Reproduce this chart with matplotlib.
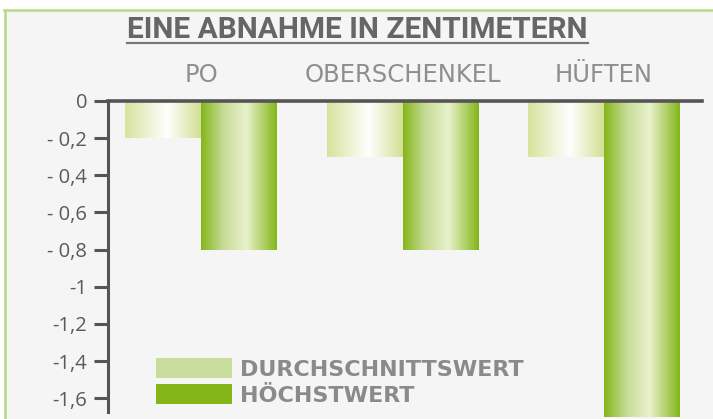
import matplotlib
matplotlib.use("Agg")
import matplotlib.pyplot as plt
import numpy as np
from matplotlib.lines import Line2D
from matplotlib.patches import Rectangle
from matplotlib.colors import LinearSegmentedColormap

# ---- data ----
categories = ["PO", "OBERSCHENKEL", "HÜFTEN"]
avg_values = [-0.2, -0.3, -0.3]
max_values = [-0.8, -0.8, -1.7]
series_names = ["DURCHSCHNITTSWERT", "HÖCHSTWERT"]
y_ticks = [0, -0.2, -0.4, -0.6, -0.8, -1.0, -1.2, -1.4, -1.6]
y_tick_labels = ["0", "- 0,2", "- 0,4", "- 0,6", "- 0,8", "-1", "-1,2", "-1,4", "-1,6"]
title = "EINE ABNAHME IN ZENTIMETERN"

W, H = 713, 419
fig = plt.figure(figsize=(W / 100, H / 100), dpi=100)
fig.patch.set_facecolor("white")

def fx(px):
    return px / W

def fy(py):
    return 1 - py / H

# background panel + border
fig.patches.append(Rectangle((fx(4), 0), 1 - fx(4), fy(10.5), transform=fig.transFigure,
                             facecolor="#f5f5f5", edgecolor="none", zorder=-5))
fig.lines.append(Line2D([fx(4), 1], [fy(10.5), fy(10.5)], transform=fig.transFigure,
                        color="#b9d98a", lw=1.8, zorder=-4))
fig.lines.append(Line2D([fx(4.5), fx(4.5)], [0, fy(10)], transform=fig.transFigure,
                        color="#b9d98a", lw=1.8, zorder=-4))

ax = fig.add_axes([fx(108), 0, fx(702) - fx(108), fy(101)])
ax.set_facecolor("none")
ax.set_zorder(2)

x = np.arange(len(categories))
bw = 0.375
light_bars = ax.bar(x - bw / 2, avg_values, bw, color="#c8dc9c", label=series_names[0], zorder=2)
dark_bars = ax.bar(x + bw / 2, max_values, bw, color="#84b61a", label=series_names[1], zorder=2)

cm_light = LinearSegmentedColormap.from_list(
    "l", [(0, "#d6e39c"), (0.55, "#ffffff"), (1, "#d2e095")])
cm_dark = LinearSegmentedColormap.from_list(
    "d", [(0, "#84b61a"), (0.3, "#c8dc98"), (0.6, "#e9f1cb"), (1, "#84b61a")])
grad = np.linspace(0, 1, 256)[None, :]
for bars, cm in ((light_bars, cm_light), (dark_bars, cm_dark)):
    for b in bars:
        x0, y0 = b.get_x(), b.get_y()
        w, h = b.get_width(), b.get_height()
        im = ax.imshow(grad, cmap=cm, aspect="auto", extent=(x0, x0 + w, y0 + h, y0),
                       zorder=3, interpolation="bilinear")
        im.set_clip_path(b)

ax.set_xlim(-0.4615, 2.486)
ax.set_ylim(-1.712, 0)

# spines
for s in ("right", "bottom"):
    ax.spines[s].set_visible(False)
ax.spines["top"].set_color("#555555")
ax.spines["top"].set_linewidth(2.6)
ax.spines["top"].set_zorder(5)
ax.spines["left"].set_color("#555555")
ax.spines["left"].set_linewidth(2.2)
ax.spines["left"].set_bounds(-1.676, 0)

ax.set_yticks(y_ticks)
ax.set_yticklabels(y_tick_labels)
ax.tick_params(axis="y", direction="out", length=10, width=2.2, color="#555555",
               pad=5, labelsize=14.5, labelcolor="#5a5a5a")
for lab in ax.get_yticklabels():
    lab.set_family("Open Sans")

ax.xaxis.tick_top()
ax.set_xticks(x)
ax.set_xticklabels(categories)
ax.tick_params(axis="x", length=0, pad=10, labelsize=17.5, labelcolor="#8e8e8e")
for lab in ax.get_xticklabels():
    lab.set_family("DejaVu Sans")

# legend
leg = ax.legend(loc="upper left", bbox_to_anchor=(fx(156), fy(358)),
                bbox_transform=fig.transFigure, frameon=False, borderpad=0,
                borderaxespad=0, handlelength=3.42, handleheight=1.0,
                labelspacing=0.22, handletextpad=0.36,
                prop={"family": "DejaVu Sans", "weight": "bold", "size": 16})
for t in leg.get_texts():
    t.set_color("#8a8a8a")
leg.set_zorder(6)

# title with underline
ttl = fig.text(fx(357.5), fy(30), title, ha="center", va="center",
               fontsize=21.5, fontweight="bold", color="#666666",
               family=["Roboto", "DejaVu Sans"])
fig.canvas.draw()
bb = ttl.get_window_extent()
fig.lines.append(Line2D([bb.x0 / W, bb.x1 / W], [fy(43.5), fy(43.5)],
                        transform=fig.transFigure, color="#777777", lw=1.6))

fig.savefig("out.png", dpi=100, facecolor=fig.get_facecolor())
